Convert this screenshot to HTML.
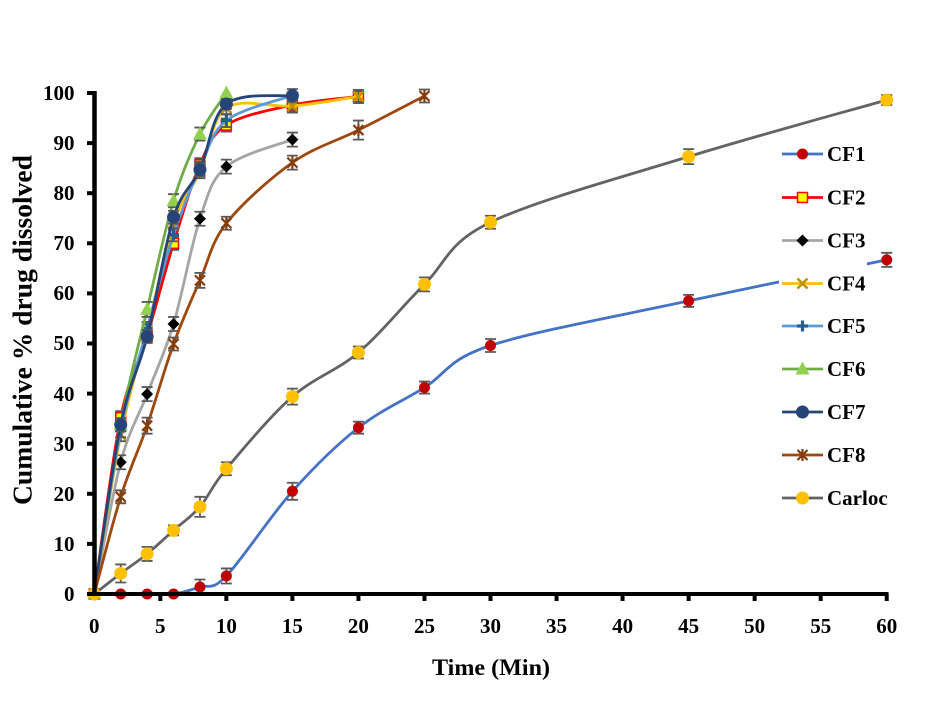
<!DOCTYPE html>
<html><head><meta charset="utf-8"><style>
html,body{margin:0;padding:0;background:#fff;}
svg{display:block;}
text{font-family:"Liberation Serif","Times New Roman",serif;font-weight:bold;fill:#000;}
</style></head><body>
<svg id="c" width="944" height="702" viewBox="0 0 944 702" xmlns="http://www.w3.org/2000/svg">
<rect width="944" height="702" fill="#fff"/>
<g id="series"></g>
<rect x="779" y="132" width="88" height="386" fill="#fff"/>
<g id="legend"></g>
<!-- axes -->
<g stroke="#000" fill="none">
<line x1="94.5" y1="91" x2="94.5" y2="596" stroke-width="4.5"/>
<line x1="92" y1="594" x2="888.5" y2="594" stroke-width="4"/>
<g id="ticks" stroke-width="4"></g>
</g>
<g font-size="21" text-anchor="end">
<text x="74.5" y="601">0</text>
<text x="74.5" y="551">10</text>
<text x="74.5" y="501">20</text>
<text x="74.5" y="451">30</text>
<text x="74.5" y="401">40</text>
<text x="74.5" y="350">50</text>
<text x="74.5" y="300">60</text>
<text x="74.5" y="250">70</text>
<text x="74.5" y="200">80</text>
<text x="74.5" y="150">90</text>
<text x="74.5" y="100">100</text>
</g>
<g font-size="21" text-anchor="middle">
<text x="94.3" y="633">0</text>
<text x="160.3" y="633">5</text>
<text x="226.4" y="633">10</text>
<text x="292.4" y="633">15</text>
<text x="358.4" y="633">20</text>
<text x="424.5" y="633">25</text>
<text x="490.5" y="633">30</text>
<text x="556.5" y="633">35</text>
<text x="622.6" y="633">40</text>
<text x="688.6" y="633">45</text>
<text x="754.6" y="633">50</text>
<text x="820.7" y="633">55</text>
<text x="886.7" y="633">60</text>
</g>
<text x="491" y="675" font-size="23" text-anchor="middle" textLength="118" lengthAdjust="spacingAndGlyphs">Time (Min)</text>
<text transform="translate(31.5,330) rotate(-90)" x="0" y="0" font-size="27" text-anchor="middle" textLength="350" lengthAdjust="spacingAndGlyphs">Cumulative % drug dissolved</text>
<g font-size="21">
<text x="827" y="161">CF1</text>
<text x="827" y="204.5">CF2</text>
<text x="827" y="247.5">CF3</text>
<text x="827" y="290.5">CF4</text>
<text x="827" y="333">CF5</text>
<text x="827" y="376">CF6</text>
<text x="827" y="419">CF7</text>
<text x="827" y="462">CF8</text>
<text x="827" y="505">Carloc</text>
</g>
</svg>
<script>
(function(){
var NS="http://www.w3.org/2000/svg";
function X(t){return 94.3+t*13.207;}
function Y(v){return 594-v*5.01;}
function el(n,a,p){var e=document.createElementNS(NS,n);for(var k in a)e.setAttribute(k,a[k]);p.appendChild(e);return e;}
var ticks=document.getElementById('ticks');
for(var v=0;v<=100;v+=10){var y=Y(v);el('line',{x1:87,y1:y,x2:94,y2:y},ticks);}
for(var t=5;t<=60;t+=5){var x=X(t);el('line',{x1:x,y1:594,x2:x,y2:601},ticks);}

var S=[
{n:'CF1',line:'#4472C4',m:'circle',mf:'#C00000',r:5.5,d:[[0,0],[2,0],[4,0],[6,0],[8,1.4],[10,3.6],[15,20.5],[20,33.2],[25,41.2],[30,49.6],[45,58.5],[60,66.7]],e:[0.3,0.3,0.3,0.3,1.5,1.5,1.7,1.2,1.2,1.3,1.2,1.4]},
{n:'CF2',line:'#FF0000',m:'square',mf:'#FFFF00',ms:'#FF0000',d:[[0,0],[2,35.2],[4,51.5],[6,70],[8,85.7],[10,93.6],[15,97.6],[20,99.3]],e:1.3},
{n:'CF3',line:'#A5A5A5',m:'diamond',mf:'#000',d:[[0,0],[2,26.3],[4,39.9],[6,53.9],[8,74.9],[10,85.3],[15,90.7]],e:1.4},
{n:'CF4',line:'#FFC000',m:'x',mf:'#BF9000',d:[[0,0],[2,31.8],[4,52.5],[6,74],[8,84.3],[10,97],[15,97.4],[20,99.3]],e:1.3},
{n:'CF5',line:'#5B9BD5',m:'plus',mf:'#255E91',d:[[0,0],[2,32.6],[4,53],[6,71.7],[8,85],[10,94.5],[15,99.5]],e:1.3},
{n:'CF6',line:'#70AD47',m:'tri',mf:'#92D050',d:[[0,0],[2,33.8],[4,56.8],[6,78.5],[8,91.8],[10,100]],e:[0,1.3,1.5,1.3,1.3,0]},
{n:'CF7',line:'#264478',m:'circle',mf:'#264478',r:6.5,d:[[0,0],[2,33.8],[4,51.4],[6,75.2],[8,84.7],[10,97.8],[15,99.5]],e:[0,1.3,1.3,1.3,1.3,1.0,0]},
{n:'CF8',line:'#9E480E',m:'star',mf:'#843C0C',d:[[0,0],[2,19.4],[4,33.6],[6,49.9],[8,62.6],[10,74],[15,86.1],[20,92.6],[25,99.4]],e:[0,1.3,1.6,1.3,1.5,1.3,1.4,1.9,1.3]},
{n:'Carloc',line:'#636363',m:'circle',mf:'#FFC000',r:6.5,d:[[0,0],[2,4.1],[4,8],[6,12.7],[8,17.4],[10,25],[15,39.4],[20,48.2],[25,61.8],[30,74.2],[45,87.3],[60,98.6]],e:[0,1.8,1.4,1.0,2.0,1.3,1.6,1.2,1.4,1.3,1.5,1.0]}
];

function pathD(p){
  var d='M'+p[0][0].toFixed(2)+','+p[0][1].toFixed(2);
  for(var i=0;i<p.length-1;i++){
    var p0=p[i-1]||p[i],p1=p[i],p2=p[i+1],p3=p[i+2]||p[i+1];
    var c1x=p1[0]+(p2[0]-p0[0])/6,c1y=p1[1]+(p2[1]-p0[1])/6;
    var c2x=p2[0]-(p3[0]-p1[0])/6,c2y=p2[1]-(p3[1]-p1[1])/6;
    d+=' C'+c1x.toFixed(2)+','+c1y.toFixed(2)+' '+c2x.toFixed(2)+','+c2y.toFixed(2)+' '+p2[0].toFixed(2)+','+p2[1].toFixed(2);
  }
  return d;
}
function marker(s,x,y,g){
  switch(s.m){
    case 'circle': el('circle',{cx:x,cy:y,r:s.r,fill:s.mf},g);break;
    case 'square': el('rect',{x:x-5,y:y-5,width:10,height:10,fill:s.mf,stroke:s.ms,'stroke-width':1.5},g);break;
    case 'diamond': el('polygon',{points:(x)+','+(y-6)+' '+(x+6)+','+y+' '+x+','+(y+6)+' '+(x-6)+','+y,fill:s.mf},g);break;
    case 'x': el('path',{d:'M'+(x-5)+','+(y-5)+'L'+(x+5)+','+(y+5)+'M'+(x+5)+','+(y-5)+'L'+(x-5)+','+(y+5),stroke:s.mf,'stroke-width':2.6,fill:'none'},g);break;
    case 'plus': el('path',{d:'M'+(x-5.5)+','+y+'L'+(x+5.5)+','+y+'M'+x+','+(y-5.5)+'L'+x+','+(y+5.5),stroke:s.mf,'stroke-width':3.2,fill:'none'},g);break;
    case 'tri': el('polygon',{points:x+','+(y-7.5)+' '+(x+7)+','+(y+5.5)+' '+(x-7)+','+(y+5.5),fill:s.mf},g);break;
    case 'star': el('path',{d:'M'+(x-5)+','+(y-5)+'L'+(x+5)+','+(y+5)+'M'+(x+5)+','+(y-5)+'L'+(x-5)+','+(y+5)+'M'+x+','+(y-6)+'L'+x+','+(y+6),stroke:s.mf,'stroke-width':2.2,fill:'none'},g);break;
  }
}
var sg=document.getElementById('series');
S.forEach(function(s){
  var g=el('g',{},sg);
  var p=s.d.map(function(d){return [X(d[0]),Y(d[1])];});
  el('path',{d:pathD(p),fill:'none',stroke:s.line,'stroke-width':2.8,'stroke-linejoin':'round','stroke-linecap':'round'},g);
  s.d.forEach(function(d,i){
    var e=Array.isArray(s.e)?s.e[i]:s.e; if(d[0]===0)e=0;
    if(e>0.2){
      var x=X(d[0]),y1=Y(d[1]+e),y2=Y(d[1]-e);
      el('path',{d:'M'+x+','+y1+'L'+x+','+y2+'M'+(x-5.5)+','+y1+'L'+(x+5.5)+','+y1+'M'+(x-5.5)+','+y2+'L'+(x+5.5)+','+y2,stroke:'#595959','stroke-width':1.8,fill:'none'},g);
    }
  });
  p.forEach(function(q){marker(s,q[0],q[1],g);});
});
var lg=document.getElementById('legend');
var rows=[154,197.5,240.5,283.5,326,369,412,455,498];
S.forEach(function(s,i){
  var y=rows[i];
  el('line',{x1:782,y1:y,x2:823,y2:y,stroke:s.line,'stroke-width':2.8},lg);
  marker(s,802.5,y,lg);
});
})();
</script>
</body></html>
